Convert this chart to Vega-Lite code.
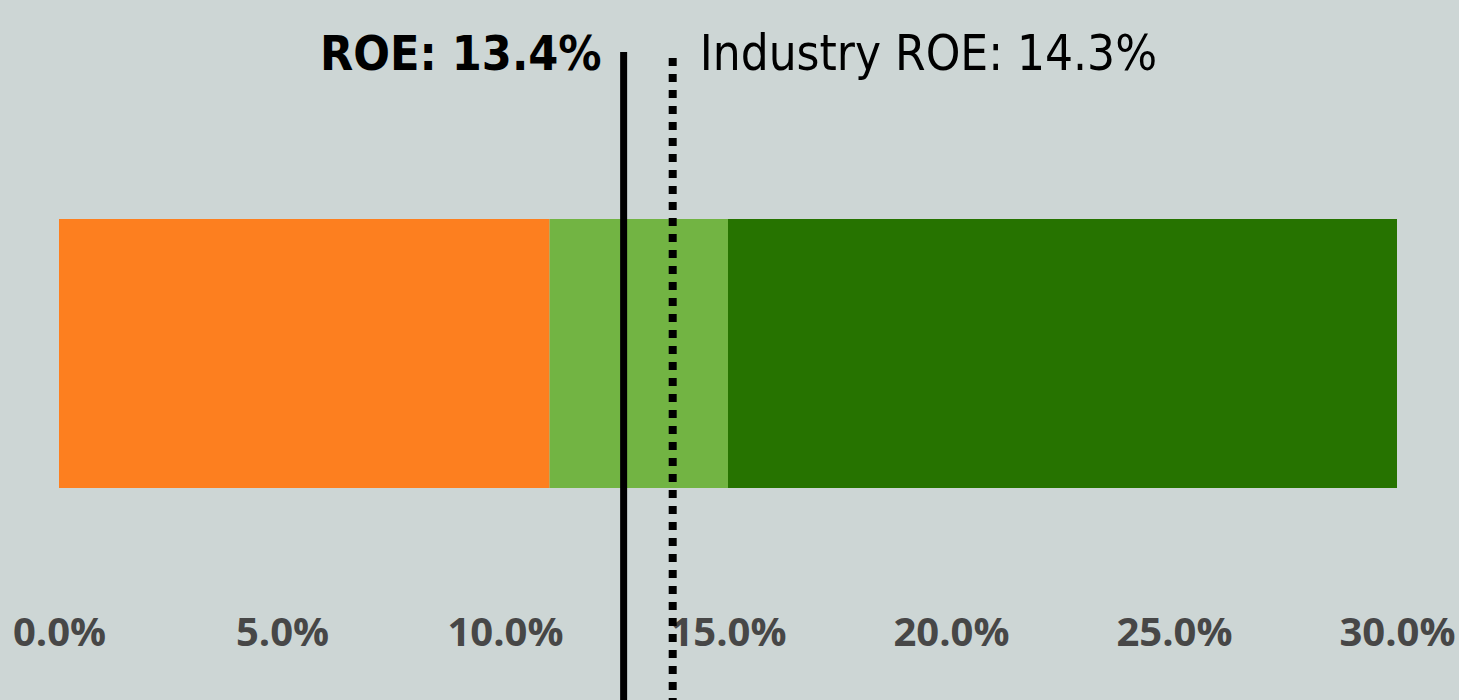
{
  "$schema": "https://vega.github.io/schema/vega-lite/v6.json",
  "width": 1338,
  "height": 648,
  "autosize": {"type": "none"},
  "padding": {"left": 59, "right": 62, "top": 52, "bottom": 0},
  "background": "#cdd6d5",
  "config": {"view": {"stroke": null}},
  "datasets": {
    "bands": [
      {"row": "ROE", "band": "Low", "start": 0, "end": 11},
      {"row": "ROE", "band": "Mid", "start": 11, "end": 15},
      {"row": "ROE", "band": "High", "start": 15, "end": 30}
    ],
    "refs": [
      {"kind": "company", "value": 12.66, "label": "ROE: 13.4%"},
      {"kind": "industry", "value": 13.76, "label": "Industry ROE: 14.3%"}
    ]
  },
  "layer": [
    {
      "data": {"name": "bands"},
      "mark": {"type": "bar"},
      "encoding": {
        "y": {"field": "row", "type": "nominal", "axis": null,
              "scale": {"paddingInner": 0, "paddingOuter": 0.7045, "align": 0.4406}},
        "x": {"field": "start", "type": "quantitative",
              "scale": {"domain": [0, 30], "nice": false},
              "axis": {"values": [0, 5, 10, 15, 20, 25, 30],
                       "labelExpr": "format(datum.value, '.1f') + '%'",
                       "title": null, "grid": false, "domain": false, "ticks": false,
                       "labelFlush": false, "labelPadding": 0, "labelBaseline": "middle",
                       "offset": -67, "labelFont": "Open Sans", "labelFontWeight": "bold",
                       "labelFontSize": 40, "labelColor": "#474747"}},
        "x2": {"field": "end"},
        "color": {"field": "band", "type": "nominal",
                  "scale": {"domain": ["Low", "Mid", "High"], "range": ["#fd7f1f", "#72b443", "#267300"]},
                  "legend": null}
      }
    },
    {
      "data": {"name": "refs"},
      "transform": [{"filter": "datum.kind == 'company'"}],
      "mark": {"type": "rule", "strokeWidth": 7, "color": "#000000"},
      "encoding": {"x": {"field": "value", "type": "quantitative"}}
    },
    {
      "data": {"name": "refs"},
      "transform": [{"filter": "datum.kind == 'industry'"}],
      "mark": {"type": "rule", "strokeWidth": 8, "color": "#000000", "strokeDash": [8, 8], "strokeDashOffset": 10},
      "encoding": {"x": {"field": "value", "type": "quantitative"}}
    },
    {
      "data": {"name": "refs"},
      "transform": [{"filter": "datum.kind == 'company'"}],
      "mark": {"type": "text", "align": "right", "baseline": "alphabetic", "dx": -22, "dy": 18,
               "font": "DejaVu Sans Condensed", "fontWeight": "bold", "fontSize": 48, "color": "#000000"},
      "encoding": {"x": {"field": "value", "type": "quantitative"}, "y": {"value": 0}, "text": {"field": "label"}}
    },
    {
      "data": {"name": "refs"},
      "transform": [{"filter": "datum.kind == 'industry'"}],
      "mark": {"type": "text", "align": "left", "baseline": "alphabetic", "dx": 27, "dy": 18,
               "font": "DejaVu Sans Condensed", "fontWeight": "normal", "fontSize": 49, "color": "#000000"},
      "encoding": {"x": {"field": "value", "type": "quantitative"}, "y": {"value": 0}, "text": {"field": "label"}}
    }
  ]
}
